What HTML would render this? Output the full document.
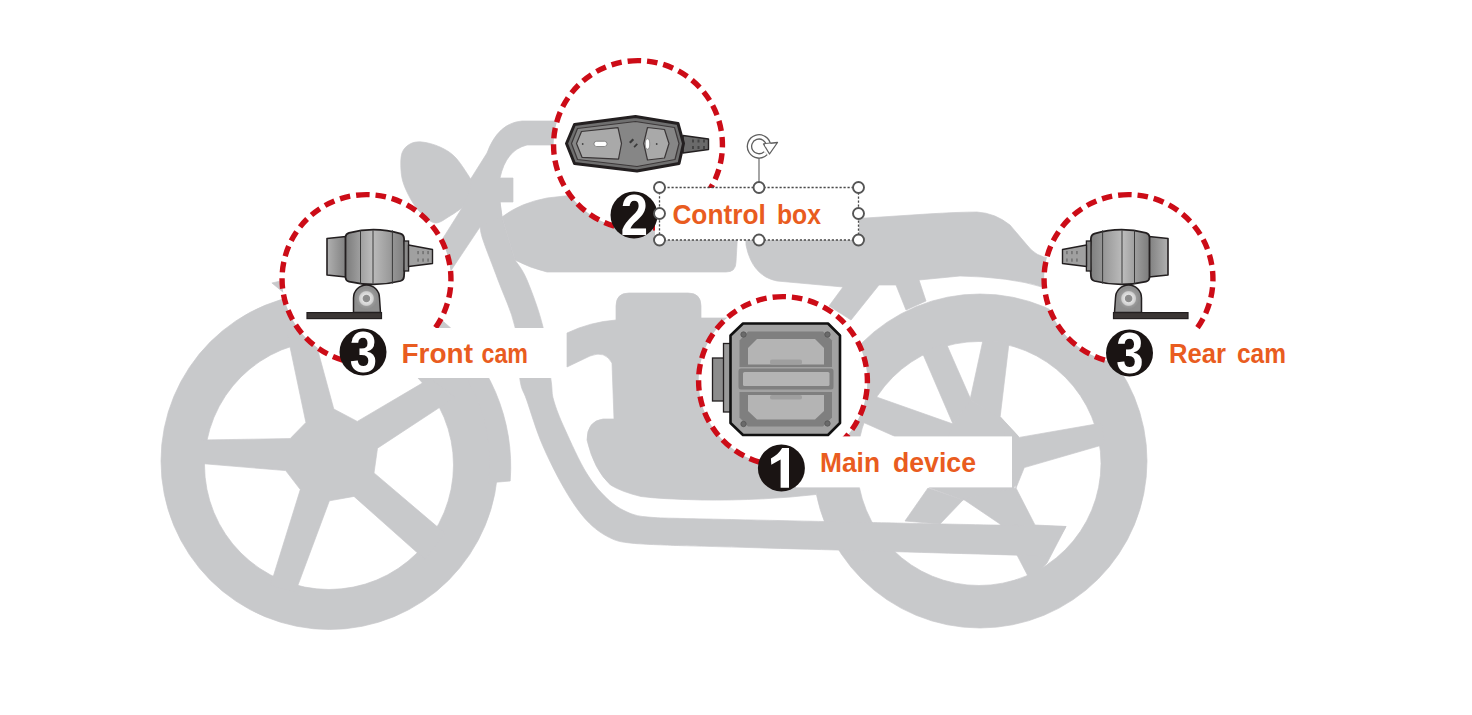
<!DOCTYPE html>
<html><head><meta charset="utf-8"><title>Motorcycle dashcam layout</title>
<style>
html,body{margin:0;padding:0;background:#fff;}
body{width:1472px;height:715px;overflow:hidden;font-family:"Liberation Sans",sans-serif;}
svg{display:block;}
text{font-family:"Liberation Sans",sans-serif;}
</style></head><body>
<svg width="1472" height="715" viewBox="0 0 1472 715">
<rect width="1472" height="715" fill="#fff"/>
<g fill="#c8c9cb" stroke="#c8c9cb" stroke-width="0.7" stroke-linejoin="round"><path fill-rule="evenodd" d="M161.0,461a168.5,168.5 0 1,0 337.0,0a168.5,168.5 0 1,0 -337.0,0ZM204.5,465a124.5,124.5 0 1,0 249.0,0a124.5,124.5 0 1,0 -249.0,0Z"/>
<path d="M510.2,481.0A190,190 0 0,0 271.9,283.0L284,293L307.2,302.6A160,160 0 0,1 488.0,482.9Z"/>
<polygon points="201,440 290.2,438.6 305.9,422.5 287.5,335 313.7,335 333.8,409 357.3,421.4 430,378.6 455,397.3 377.5,448.2 374,472.9 445,533.3 425,559.6 354,496.4 329.4,500.8 295.4,592 270.6,585 300.3,489.6 285.7,470.6 201,463.5"/>
<path fill-rule="evenodd" d="M813,461a167,167 0 1,0 334,0a167,167 0 1,0 -334,0ZM857,463.5a122,122 0 1,0 244,0a122,122 0 1,0 -244,0Z"/>
<polygon points="953,424 970,400 1000,417 1018,436 1020,475 1013,490 963,500 930,488 920,440"/>
<polygon points="922,352 946,343 971,400 953,424"/>
<polygon points="983,340 1009,343 1000,418 970,400"/>
<polygon points="1000.8,417.3 1019.3,437.4 1102,423 1104,444.5 1024.3,467.6 1016,488"/>
<polygon points="868,394 953,424 930,488 894,436 858,420"/>
<polygon points="928,488 963,500 940,524 905,521"/>
<polygon points="963,499 1016,488 1035,525 1066,526.5 1047,563 1030,580 1018,557 1000,524"/>
<path d="M480.0,226.0C480.5,228.3 480.0,231.0 483.0,240.0C486.0,249.0 492.7,265.5 498.0,280.0C503.3,294.5 511.3,310.3 515.0,327.0C518.7,343.7 518.0,367.8 520.0,380.0C522.0,392.2 523.0,389.2 526.7,400.0C530.4,410.8 536.0,429.9 542.4,444.8C548.8,459.7 557.4,476.8 564.8,489.5C572.2,502.2 579.5,512.8 587.0,520.8C594.5,528.8 602.0,533.9 609.5,537.6C617.0,541.3 620.1,541.9 631.9,543.2C643.6,544.5 672.0,545.2 680.0,545.6C741.5,547.3 987.5,554.3 1049.0,556.0C1051.8,551.1 1063.2,531.4 1066.0,526.5C1033.3,525.8 902.7,523.2 870.0,522.5C838.3,521.8 711.7,519.1 680.0,518.4C675.7,518.2 662.0,518.2 654.0,517.5C646.0,516.8 639.3,516.8 631.9,514.0C624.5,511.2 617.0,507.4 609.5,500.7C602.0,494.0 594.5,485.8 587.0,473.8C579.5,461.9 570.4,441.3 564.8,429.0C559.2,416.7 555.9,408.2 553.6,400.0C551.3,391.8 552.8,392.2 551.0,380.0C549.2,367.8 547.0,343.7 543.0,327.0C539.0,310.3 531.7,291.2 527.0,280.0C522.3,268.8 517.0,263.3 515.0,260.0C512.8,252.8 504.2,224.2 502.0,217.0C501.7,214.5 500.3,204.5 500.0,202.0C496.7,206.0 483.3,222.0 480.0,226.0Z"/>
<path d="M560,121 L522,121 Q498,123 487,153 L470,180 L462,208 L445,235 L424,268 L442,284 L480,227 L502,217 L500,202 L513,202 L513,178 L500,178 Q506,150 527,145 L560,145 Z"/>
<path d="M402.0,153.0C403.5,148.7 406.7,145.8 410.0,144.0C413.3,142.2 417.0,141.5 422.0,142.0C427.0,142.5 434.3,144.3 440.0,147.0C445.7,149.7 450.7,152.3 456.0,158.0C461.3,163.7 469.3,177.2 472.0,181.0C471.0,184.2 467.0,196.8 466.0,200.0C465.3,201.3 462.7,206.7 462.0,208.0C460.0,209.3 454.3,213.5 450.0,216.0C445.7,218.5 440.3,223.0 436.0,223.0C431.7,223.0 427.8,219.3 424.0,216.0C420.2,212.7 416.3,208.2 413.0,203.0C409.7,197.8 406.0,190.5 404.0,185.0C402.0,179.5 401.3,175.3 401.0,170.0C400.7,164.7 400.5,157.3 402.0,153.0Z"/>
<path d="M502,217 Q520,203 547,198 L600,192 L740,192 L736,262 Q736,272 726,272 L547,272 Q530,268 515,260 Z"/>
<path d="M745,215 L866,218 L927,214 Q960,212 977,212 Q995,213 1010,225 L1027,245 Q1036,257 1050,258 L1060,290 L1042,287 Q1010,277 960,276 L919,280 L926,301 L906,310 L896,285 L879,285 L851,320 L829,306 L843,287 L777,281 Q752,276 746,245 Z"/>
<path d="M616,306 Q616,293 629,293 L688,293 Q701,293 701,306 L701,318 L816,318 L816,494.5 Q790,497.5 764,498.8 Q730,500.5 702,500 Q660,499 641,496.5 Q622,492 610.5,485 Q594,470 587,440 Q587,421 603,419 L614,419 L612,363 Q605,350 590,356 L567,367 L567,333 Q590,322 616,320 Z"/></g>
<path d="M366.5,194.6A84.4,84.4 0 1,0 366.5,363.4A84.4,84.4 0 1,0 366.5,194.6" fill="#fff" stroke="#cc0c17" stroke-width="5.4" stroke-dasharray="10.5 5.95"/>
<path d="M638,60.599999999999994A84.4,84.4 0 1,0 638,229.4A84.4,84.4 0 1,0 638,60.599999999999994" fill="#fff" stroke="#cc0c17" stroke-width="5.4" stroke-dasharray="10.5 5.95"/>
<path d="M783,296.6A84.4,84.4 0 1,0 783,465.4A84.4,84.4 0 1,0 783,296.6" fill="#fff" stroke="#cc0c17" stroke-width="5.4" stroke-dasharray="10.5 5.95"/>
<path d="M1128.5,194.6A84.4,84.4 0 1,0 1128.5,363.4A84.4,84.4 0 1,0 1128.5,194.6" fill="#fff" stroke="#cc0c17" stroke-width="5.4" stroke-dasharray="10.5 5.95"/>
<rect x="380" y="328" width="186" height="50" fill="#fff"/>
<rect x="655" y="188" width="204" height="52" fill="#fff"/>
<rect x="796" y="436.4" width="216" height="51" fill="#fff"/>
<rect x="1150" y="330" width="150" height="48" fill="#fff"/>
<circle cx="363" cy="352" r="23.5" fill="#1a1413"/><text transform="translate(363.5,372.3) scale(0.86,1)" text-anchor="middle" font-size="57" font-weight="bold" fill="#fff">3</text>
<circle cx="634" cy="215" r="23.5" fill="#1a1413"/><text transform="translate(634.5,235.3) scale(0.86,1)" text-anchor="middle" font-size="57" font-weight="bold" fill="#fff">2</text>
<circle cx="781.4" cy="468" r="23.5" fill="#1a1413"/><path d="M782.1,448.1 L789.0,448.1 L789.0,487.8 L780.6,487.8 L780.6,459.40000000000003 L771.3000000000001,464.8 L770.9,458.40000000000003 Q778.6,454.6 782.1,448.1 Z" fill="#fff"/>
<circle cx="1129.5" cy="353" r="23.5" fill="#1a1413"/><text transform="translate(1130.0,373.3) scale(0.86,1)" text-anchor="middle" font-size="57" font-weight="bold" fill="#fff">3</text>
<text x="401.5" y="363" font-size="27" font-weight="bold" fill="#e95c20" textLength="71.5" lengthAdjust="spacingAndGlyphs">Front</text>
<text x="481.5" y="363" font-size="27" font-weight="bold" fill="#e95c20" textLength="46.5" lengthAdjust="spacingAndGlyphs">cam</text>
<text x="672.4" y="223.6" font-size="27" font-weight="bold" fill="#e95c20" textLength="93.4" lengthAdjust="spacingAndGlyphs">Control</text>
<text x="777" y="223.6" font-size="27" font-weight="bold" fill="#e95c20" textLength="44" lengthAdjust="spacingAndGlyphs">box</text>
<text x="820" y="471.5" font-size="27" font-weight="bold" fill="#e95c20" textLength="60" lengthAdjust="spacingAndGlyphs">Main</text>
<text x="893" y="471.5" font-size="27" font-weight="bold" fill="#e95c20" textLength="83" lengthAdjust="spacingAndGlyphs">device</text>
<text x="1169" y="363.2" font-size="27" font-weight="bold" fill="#e95c20" textLength="57" lengthAdjust="spacingAndGlyphs">Rear</text>
<text x="1237" y="363.2" font-size="27" font-weight="bold" fill="#e95c20" textLength="49" lengthAdjust="spacingAndGlyphs">cam</text>
<defs>
<linearGradient id="gB" x1="0" x2="1" y1="0" y2="0"><stop offset="0" stop-color="#7b7b7b"/><stop offset=".45" stop-color="#bcbcbc"/><stop offset="1" stop-color="#7e7e7e"/></linearGradient>
<linearGradient id="gH" x1="0" x2="1" y1="0" y2="0"><stop offset="0" stop-color="#b0b0b0"/><stop offset="1" stop-color="#808080"/></linearGradient>
<radialGradient id="gBall"><stop offset="0" stop-color="#8a8a8a"/><stop offset=".3" stop-color="#8f8f8f"/><stop offset=".38" stop-color="#e2e2e2"/><stop offset=".62" stop-color="#cfcfcf"/><stop offset=".72" stop-color="#9a9a9a"/><stop offset="1" stop-color="#8c8c8c"/></radialGradient>
</defs>
<g><polygon points="327,238.5 346,236.5 346,277 327,275" fill="url(#gH)" stroke="#231f20" stroke-width="1.6" stroke-linejoin="round"/><path d="M345.5,237 Q345.8,233.6 349,232.8 Q375,226.2 400.5,233.6 Q403.8,234.6 404,238 Q405.6,257 404,276.5 Q403.8,280 400.5,281 Q375,287.6 349,281.6 Q345.8,280.8 345.5,277.5 Z" fill="url(#gB)" stroke="#231f20" stroke-width="1.8" stroke-linejoin="round"/><line x1="360.5" y1="230.3" x2="360.5" y2="283.6" stroke="#3a3a3a" stroke-width="1"/><line x1="373" y1="230.3" x2="373" y2="283.6" stroke="#3a3a3a" stroke-width="1"/><line x1="392.4" y1="230.3" x2="392.4" y2="283.6" stroke="#3a3a3a" stroke-width="1"/><rect x="404" y="241" width="4.6" height="30" fill="#8a8a8a" stroke="#231f20" stroke-width="1.3"/><polygon points="408.5,245 432.5,249.5 432.5,263.5 408.5,266.5" fill="#a0a0a0" stroke="#231f20" stroke-width="1.4" stroke-linejoin="round"/><rect x="417.2" y="251" width="1.8" height="3.2" fill="#777"/><rect x="417.2" y="258.5" width="1.8" height="3.2" fill="#777"/><rect x="422.2" y="251" width="1.8" height="3.2" fill="#777"/><rect x="422.2" y="258.5" width="1.8" height="3.2" fill="#777"/><rect x="427.2" y="251" width="1.8" height="3.2" fill="#777"/><rect x="427.2" y="258.5" width="1.8" height="3.2" fill="#777"/><path d="M353.5,312.5 L353.5,298 A13,13 0 0,1 379.5,298 L380.5,312.5 Z" fill="#8e8e8e" stroke="#231f20" stroke-width="1.5"/><circle cx="366.4" cy="298.5" r="11" fill="url(#gBall)"/><rect x="307" y="312.6" width="74.5" height="6" fill="#3b3635" stroke="#231f20" stroke-width="1.2"/></g>
<g transform="translate(1495,0) scale(-1,1)"><polygon points="327,238.5 346,236.5 346,277 327,275" fill="url(#gH)" stroke="#231f20" stroke-width="1.6" stroke-linejoin="round"/><path d="M345.5,237 Q345.8,233.6 349,232.8 Q375,226.2 400.5,233.6 Q403.8,234.6 404,238 Q405.6,257 404,276.5 Q403.8,280 400.5,281 Q375,287.6 349,281.6 Q345.8,280.8 345.5,277.5 Z" fill="url(#gB)" stroke="#231f20" stroke-width="1.8" stroke-linejoin="round"/><line x1="360.5" y1="230.3" x2="360.5" y2="283.6" stroke="#3a3a3a" stroke-width="1"/><line x1="373" y1="230.3" x2="373" y2="283.6" stroke="#3a3a3a" stroke-width="1"/><line x1="392.4" y1="230.3" x2="392.4" y2="283.6" stroke="#3a3a3a" stroke-width="1"/><rect x="404" y="241" width="4.6" height="30" fill="#8a8a8a" stroke="#231f20" stroke-width="1.3"/><polygon points="408.5,245 432.5,249.5 432.5,263.5 408.5,266.5" fill="#a0a0a0" stroke="#231f20" stroke-width="1.4" stroke-linejoin="round"/><rect x="417.2" y="251" width="1.8" height="3.2" fill="#777"/><rect x="417.2" y="258.5" width="1.8" height="3.2" fill="#777"/><rect x="422.2" y="251" width="1.8" height="3.2" fill="#777"/><rect x="422.2" y="258.5" width="1.8" height="3.2" fill="#777"/><rect x="427.2" y="251" width="1.8" height="3.2" fill="#777"/><rect x="427.2" y="258.5" width="1.8" height="3.2" fill="#777"/><path d="M353.5,312.5 L353.5,298 A13,13 0 0,1 379.5,298 L380.5,312.5 Z" fill="#8e8e8e" stroke="#231f20" stroke-width="1.5"/><circle cx="366.4" cy="298.5" r="11" fill="url(#gBall)"/><rect x="307" y="312.6" width="74.5" height="6" fill="#3b3635" stroke="#231f20" stroke-width="1.2"/></g>
<g><polygon points="683,135.5 708.5,139 708.5,149.5 683,153" fill="#6a6a6a" stroke="#231f20" stroke-width="1.4" stroke-linejoin="round"/><rect x="692" y="139.5" width="2" height="3" fill="#444"/><rect x="692" y="146" width="2" height="3" fill="#444"/><rect x="697.5" y="139.5" width="2" height="3" fill="#444"/><rect x="697.5" y="146" width="2" height="3" fill="#444"/><rect x="703" y="139.5" width="2" height="3" fill="#444"/><rect x="703" y="146" width="2" height="3" fill="#444"/><polygon points="566.5,143.5 574.5,124.5 635.5,116.5 678,123.5 683.5,143.5 679,163.5 637,171 574.5,163.5" fill="#6f6f6f" stroke="#231f20" stroke-width="3" stroke-linejoin="round"/><polygon points="571.5,143.5 577.5,128.5 635.5,121.5 674.5,127.5 679,143.5 675,159.5 637,166.5 577.5,159.5" fill="#868686" stroke="#3c3839" stroke-width="1.2" stroke-linejoin="round"/><polygon points="576.5,143.5 581.5,131.5 618,127.7 621.5,143.5 618.5,159.2 582,157.3" fill="#a9a9a9" stroke="#3a3637" stroke-width="1.2" stroke-linejoin="round"/><polygon points="643.7,143.5 647.5,127.5 664.5,129.5 669,143.5 664.5,158 647.5,160" fill="#a9a9a9" stroke="#3a3637" stroke-width="1.2" stroke-linejoin="round"/><rect x="594" y="141.3" width="13" height="5.2" rx="2.6" fill="#fff" stroke="#555" stroke-width=".6"/><ellipse cx="647.5" cy="144" rx="2.2" ry="5.2" fill="#fff" stroke="#555" stroke-width=".5"/><circle cx="582.7" cy="144" r=".9" fill="#444"/><circle cx="656.7" cy="144" r=".9" fill="#444"/><path d="M629,142 l3.5,-3.5 l1.6,1.6 l-3.5,3.5 z M633.5,146.5 l3.2,-3.2 l1.2,1.2 l-3.2,3.2 z" fill="#3a3a3a"/></g>
<g><rect x="712.5" y="358" width="12" height="43" fill="#8c8c8c" stroke="#231f20" stroke-width="1.3"/><rect x="723.5" y="343.5" width="8" height="68.5" fill="#9a9a9a" stroke="#231f20" stroke-width="1.3"/><polygon points="743,323.5 828,323.5 840,335.5 840,423 828,435 743,435 730.5,423 730.5,335.5" fill="#a2a2a2" stroke="#111" stroke-width="2.6" stroke-linejoin="round"/><polygon points="748,331.5 823,331.5 832,340.5 832,367 739.5,367 739.5,340.5" fill="#7f7f7f"/><polygon points="757,339 815,339 824,348 824,364.5 748,364.5 748,348" fill="#b4b4b4"/><rect x="738.5" y="368.5" width="95" height="21" rx="2.5" fill="#7f7f7f"/><rect x="743" y="372" width="86.5" height="14" rx="1.5" fill="#b4b4b4"/><polygon points="739.5,392 832,392 832,417.5 823,426.5 748,426.5 739.5,417.5" fill="#7f7f7f"/><polygon points="748,395 824,395 824,411 815,419.5 757,419.5 748,411" fill="#b4b4b4"/><rect x="770" y="359.5" width="32" height="5" rx="2" fill="#9f9f9f"/><rect x="770" y="395" width="32" height="4.5" rx="2" fill="#9f9f9f"/><circle cx="743.5" cy="334.5" r="2.7" fill="#6a6a6a" stroke="#555" stroke-width=".8"/><circle cx="827.5" cy="334.5" r="2.7" fill="#6a6a6a" stroke="#555" stroke-width=".8"/><circle cx="743.5" cy="424" r="2.7" fill="#6a6a6a" stroke="#555" stroke-width=".8"/><circle cx="827.5" cy="423.5" r="2.7" fill="#6a6a6a" stroke="#555" stroke-width=".8"/></g>
<rect x="659.5" y="187.5" width="199" height="52.5" fill="none" stroke="#4a4a4a" stroke-width="1.3" stroke-dasharray="2.2 1.8"/>
<line x1="759" y1="158" x2="759" y2="182" stroke="#6a6a6a" stroke-width="1.2"/>
<circle cx="659.5" cy="187.5" r="5.5" fill="#fff" stroke="#555" stroke-width="1.9"/>
<circle cx="759" cy="187.5" r="5.5" fill="#fff" stroke="#555" stroke-width="1.9"/>
<circle cx="858.5" cy="187.5" r="5.5" fill="#fff" stroke="#555" stroke-width="1.9"/>
<circle cx="659.5" cy="213.5" r="5.5" fill="#fff" stroke="#555" stroke-width="1.9"/>
<circle cx="858.5" cy="213.5" r="5.5" fill="#fff" stroke="#555" stroke-width="1.9"/>
<circle cx="659.5" cy="240" r="5.5" fill="#fff" stroke="#555" stroke-width="1.9"/>
<circle cx="759" cy="240" r="5.5" fill="#fff" stroke="#555" stroke-width="1.9"/>
<circle cx="858.5" cy="240" r="5.5" fill="#fff" stroke="#555" stroke-width="1.9"/>
<path d="M765.72,153.12A9.5,9.5 0 1,1 768.46,145.57" fill="none" stroke="#5f5f5f" stroke-width="5.6"/>
<path d="M765.72,153.12A9.5,9.5 0 1,1 768.46,145.57" fill="none" stroke="#fff" stroke-width="3"/>
<path d="M763.5,144 L777.5,142.5 L769.5,154 Z" fill="#fff" stroke="#5f5f5f" stroke-width="1.3" stroke-linejoin="round"/>
<path d="M765.2,145.2 L770.6,144.6" stroke="#fff" stroke-width="2.4"/>
</svg>
</body></html>
